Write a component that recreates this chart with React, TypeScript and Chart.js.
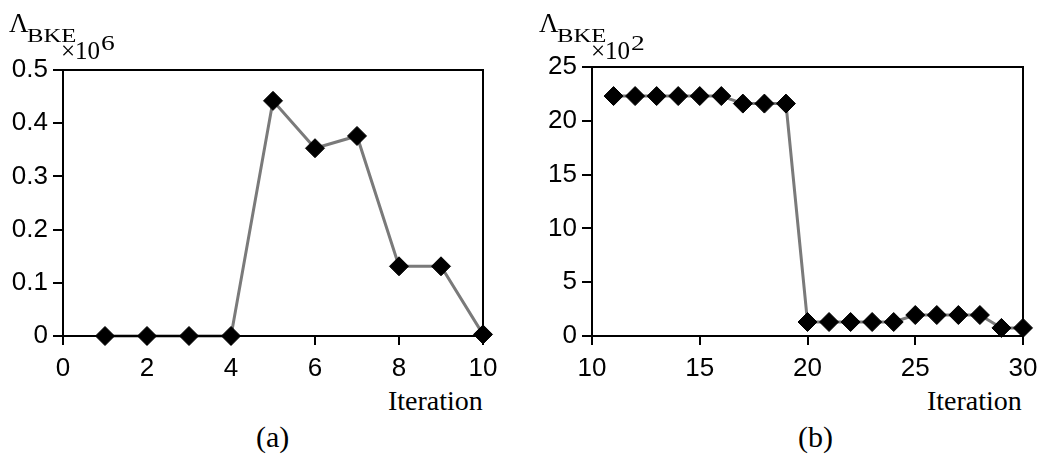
import React, { useEffect, useRef } from "react";
import { Chart, registerables } from "chart.js";

Chart.register(...registerables);

const iterA = [1, 2, 3, 4, 5, 6, 7, 8, 9, 10];
const valuesA = [0, 0, 0, 0, 0.442, 0.353, 0.376, 0.131, 0.131, 0.003];
const iterB = [11, 12, 13, 14, 15, 16, 17, 18, 19, 20, 21, 22, 23, 24, 25, 26, 27, 28, 29, 30];
const valuesB = [22.3, 22.3, 22.3, 22.3, 22.3, 22.3, 21.6, 21.6, 21.6, 1.3, 1.3, 1.3, 1.3, 1.3, 1.95, 1.95, 1.95, 1.95, 0.75, 0.75];

const xTicksA = [0, 10, 2];
const yTicksA = [0, 0.5, 0.1];
const xTicksB = [10, 30, 5];
const yTicksB = [0, 25, 5];

const boxPlugin = {
  id: "box",
  afterDatasetsDraw(chart: any) {
    const { ctx, chartArea } = chart;
    ctx.save();
    ctx.strokeStyle = "#000";
    ctx.lineWidth = 2;
    ctx.strokeRect(chartArea.left, chartArea.top, chartArea.right - chartArea.left, chartArea.bottom - chartArea.top);
    ctx.restore();
  },
};

function makeConfig(xs: number[], ys: number[], xt: number[], yt: number[], yWidth: number, pad: any) {
  const tickFont = { family: "'Liberation Sans', Arial, sans-serif", size: 26 };
  return {
    type: "line",
    data: {
      datasets: [
        {
          data: xs.map((x, i) => ({ x, y: ys[i] })),
          borderColor: "#7a7a7a",
          borderWidth: 3,
          pointStyle: "rectRot",
          pointRadius: 9.5,
          pointBackgroundColor: "#000",
          pointBorderColor: "#000",
          pointBorderWidth: 1,
          tension: 0,
          clip: false,
        },
      ],
    },
    options: {
      animation: false,
      responsive: false,
      maintainAspectRatio: false,
      layout: { padding: pad },
      plugins: { legend: { display: false }, tooltip: { enabled: false }, title: { display: false } },
      scales: {
        x: {
          type: "linear",
          min: xt[0],
          max: xt[1],
          afterFit: (s: any) => {
            s.height = 44;
          },
          ticks: { stepSize: xt[2], color: "#000", font: tickFont, padding: 8, maxRotation: 0 },
          grid: { drawOnChartArea: false, tickLength: 9, color: "#000", lineWidth: 2 },
          border: { display: true, color: "#000", width: 2 },
        },
        y: {
          type: "linear",
          min: yt[0],
          max: yt[1],
          afterFit: (s: any) => {
            s.width = yWidth;
          },
          ticks: { stepSize: yt[2], color: "#000", font: tickFont, padding: 5 },
          grid: { drawOnChartArea: false, tickLength: 10, color: "#000", lineWidth: 2 },
          border: { display: true, color: "#000", width: 2 },
        },
      },
    },
    plugins: [boxPlugin],
  };
}

function Panel(props: {
  left: number;
  xs: number[];
  ys: number[];
  xt: number[];
  yt: number[];
  yWidth: number;
  pad: any;
  exp: string;
  letter: string;
  iterLeft: number;
  letterLeft: number;
}) {
  const ref = useRef<HTMLCanvasElement | null>(null);
  useEffect(() => {
    if (!ref.current) return;
    const chart = new Chart(ref.current, makeConfig(props.xs, props.ys, props.xt, props.yt, props.yWidth, props.pad) as any);
    return () => chart.destroy();
  }, []);
  const serif = "'Liberation Serif', 'Times New Roman', serif";
  const abs = (l: number, t: number, size: number, sx = 1): React.CSSProperties => ({
    position: "absolute",
    left: l,
    top: t,
    fontFamily: serif,
    fontSize: size,
    lineHeight: size + "px",
    whiteSpace: "nowrap",
    transform: sx !== 1 ? `scaleX(${sx})` : undefined,
    transformOrigin: "left top",
  });
  return (
    <div style={{ position: "absolute", left: props.left, top: 0, width: 520, height: 465 }}>
      <canvas ref={ref} width={520} height={380} style={{ position: "absolute", left: 0, top: 0 }} />
      <div style={abs(9, 10, 27)}>Λ</div>
      <div style={abs(27, 26, 19, 1.3)}>BKE</div>
      <div style={abs(61, 38, 25)}>×10</div>
      <div style={abs(101, 32, 22, 1.25)}>{props.exp}</div>
      <div style={abs(props.iterLeft, 387, 28)}>Iteration</div>
      <div style={abs(props.letterLeft, 422, 30)}>{props.letter}</div>
    </div>
  );
}

export default function App() {
  useEffect(() => {
    document.body.style.margin = "0";
    document.body.style.background = "#fff";
  }, []);
  return (
    <div style={{ position: "relative", width: 1050, height: 465, background: "#fff", overflow: "hidden" }}>
      <Panel
        left={0}
        xs={iterA}
        ys={valuesA}
        xt={xTicksA}
        yt={yTicksA}
        yWidth={63}
        pad={{ top: 70, right: 37, left: 0, bottom: 0 }}
        exp="6"
        letter="(a)"
        iterLeft={388}
        letterLeft={256}
      />
      <Panel
        left={530}
        xs={iterB}
        ys={valuesB}
        xt={xTicksB}
        yt={yTicksB}
        yWidth={62}
        pad={{ top: 67, right: 27, left: 0, bottom: 0 }}
        exp="2"
        letter="(b)"
        iterLeft={397}
        letterLeft={268}
      />
    </div>
  );
}
